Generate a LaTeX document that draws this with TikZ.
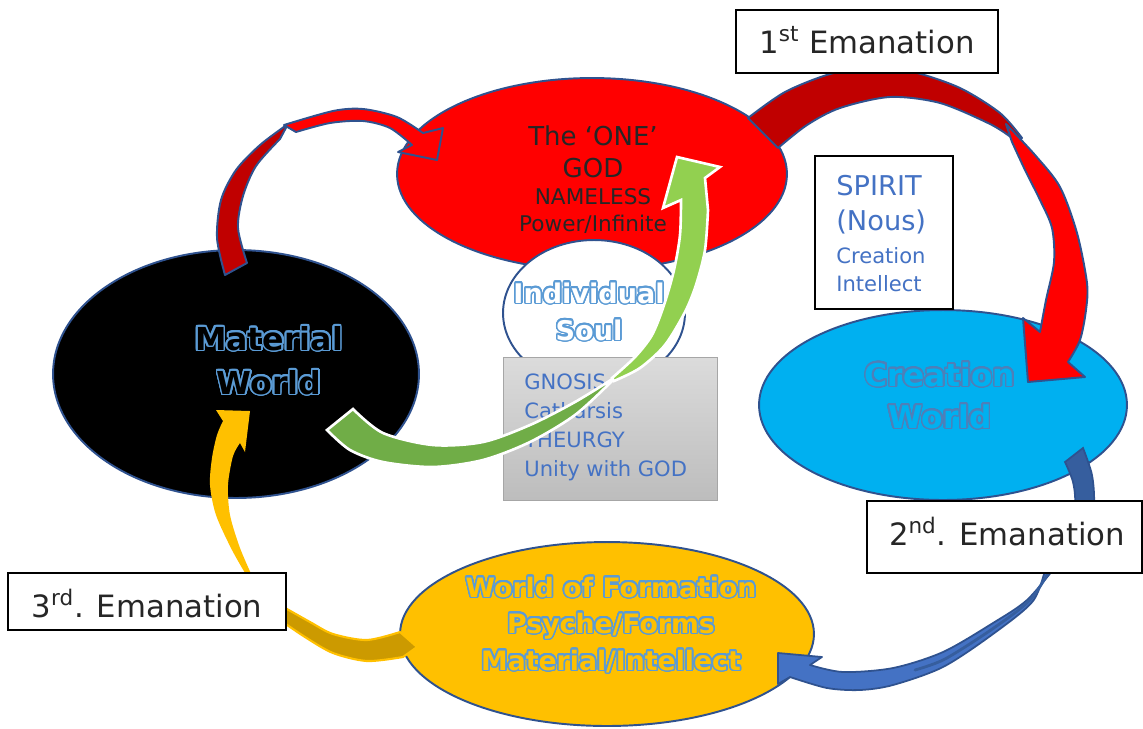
\documentclass[tikz,border=0pt]{standalone}
\usepackage{fontspec}
\setmainfont{DejaVu Sans}
\usepackage{xcolor}
\usepackage{contour}
\usepackage{tikz}
\usetikzlibrary{positioning}
\usetikzlibrary{shapes,calc}
\contourlength{0.9pt}
\contournumber{24}
\definecolor{godred}{HTML}{FF0000}
\definecolor{backred}{HTML}{C00000}
\definecolor{edgeblue}{HTML}{2F528F}
\definecolor{skyblue}{HTML}{00B0F0}
\definecolor{gold}{HTML}{FFC000}
\definecolor{backgold}{HTML}{CC9A00}
\definecolor{frontblue}{HTML}{4472C4}
\definecolor{backblue}{HTML}{365E9E}
\definecolor{backgreen}{HTML}{70AD47}
\definecolor{frontgreen}{HTML}{92D050}
\definecolor{inkblue}{HTML}{4472C4}
\definecolor{rimblue}{HTML}{5B9BD5}
\definecolor{dullrim}{HTML}{4F7FB8}
\definecolor{inkgray}{HTML}{262626}
\newcommand{\sz}[1]{\fontsize{#1pt}{#1pt}\selectfont}
\tikzset{
	world/.style = {ellipse, draw=edgeblue, line width=1.1pt, inner sep=0pt},
	tag/.style = {rectangle, draw=black, fill=white, line width=0.7pt, inner sep=0pt},
	lbl/.style = {anchor=base, inner sep=0pt},
	bandred/.style = {draw=edgeblue, line width=1.1pt, line join=round},
}

\begin{document}
\begin{tikzpicture}[x=0.02cm, y=-0.02cm]
\useasboundingbox (0,0) rectangle (1143,728);
% worlds
\node (One) [world, fill=godred, minimum width=7.8cm, minimum height=3.84cm] at (592,174) {};
\node (Material) [world, fill=black, minimum width=7.32cm, minimum height=4.96cm] at (236,374) {};
\node (Creation) [world, fill=skyblue, minimum width=7.36cm, minimum height=3.8cm] at (943,405) {};
\node (Formation) [world, fill=gold, minimum width=8.28cm, minimum height=3.68cm] at (607,634) {};
\node (Soul) [world, fill=white, minimum width=3.64cm, minimum height=2.92cm] at (594,313) {};
% texts in the worlds
\node (OneA) [lbl, text=inkgray, font=\sz{14.8}] at (593,145) {The ‘ONE’};
\node (OneB) [lbl, text=inkgray, font=\sz{14.8}] at (593,177) {GOD};
\node (OneC) [lbl, text=inkgray, font=\sz{12.3}] at (593,204) {NAMELESS};
\node (OneD) [lbl, text=inkgray, font=\sz{12.3}] at (593,231) {Power/Infinite};
\node (MatA) [lbl, text=black, font=\sz{18}\bfseries] at (269,350) {\contour{rimblue}{Material}};
\node (MatB) [lbl, text=black, font=\sz{18}\bfseries] at (269,394) {\contour{rimblue}{World}};
\node (CreA) [lbl, text=skyblue, font=\sz{17.8}\bfseries] at (940,386) {\contour{dullrim}{Creation}};
\node (CreB) [lbl, text=skyblue, font=\sz{17.8}\bfseries] at (940,428) {\contour{dullrim}{World}};
\node (ForA) [lbl, text=gold, font=\sz{15.2}\bfseries] at (611,597) {\contour{rimblue}{World of Formation}};
\node (ForB) [lbl, text=gold, font=\sz{15.2}\bfseries] at (611,633) {\contour{rimblue}{Psyche/Forms}};
\node (ForC) [lbl, text=gold, font=\sz{15.2}\bfseries] at (611,670) {\contour{rimblue}{Material/Intellect}};
\node (SoulA) [lbl, text=white, font=\sz{15.4}\bfseries] at (589,303) {\contour{rimblue}{Individual}};
\node (SoulB) [lbl, text=white, font=\sz{15.4}\bfseries] at (589,340) {\contour{rimblue}{Soul}};
% return arrow, material to one
\filldraw[fill=backred, bandred] plot[smooth] coordinates {(225,275) (217,238) (221,200) (236,170) (260,145) (288,124)}
	-- plot[smooth] coordinates {(280,139) (256,166) (243,196) (238,228) (247,263)} -- cycle;
\filldraw[fill=godred, bandred] plot[smooth] coordinates {(284,125) (333,111) (363,109) (397,117) (423,133)}
	-- (443,128) -- (437,160) -- (398,152)
	-- plot[smooth] coordinates {(412,145) (390,128) (363,121) (330,123) (296,132)} -- cycle;
% 1st emanation
\filldraw[fill=backred, bandred] plot[smooth] coordinates {(748,118) (785,92) (830,74) (870,68) (913,72) (960,88) (1000,113) (1022,138)}
	-- plot[smooth] coordinates {(1012,138) (990,124) (940,103) (890,97) (840,108) (807,125) (778,148)} -- cycle;
\filldraw[fill=godred, bandred] plot[smooth] coordinates {(1006,124) (1035,155) (1060,187) (1077,233) (1087,283) (1086,310) (1080,340) (1068,362)}
	-- (1085,377) -- (1028,382) -- (1023,318)
	-- plot[smooth] coordinates {(1040,332) (1046,300) (1054,262) (1052,228) (1040,200) (1025,170) (1012,142)} -- cycle;
% 2nd emanation
\filldraw[fill=backblue, draw=edgeblue, line width=1pt] plot[smooth] coordinates {(1083,448) (1092,475) (1094,505) (1088,540)}
	-- plot[smooth] coordinates {(1068,540) (1075,505) (1073,482) (1065,462)} -- cycle;
\filldraw[fill=frontblue, draw=edgeblue, line width=1pt, line join=round] plot[smooth] coordinates {(1056,566) (1027,600) (993,623) (943,652) (893,668) (843,672) (810,665)}
	-- (822,657) -- (778,653) -- (778,684)
	-- plot[smooth] coordinates {(790,677) (827,688) (860,690) (893,685) (943,667) (993,634) (1033,601) (1046,566)} -- cycle;
\draw[backblue, line width=1.6pt, line cap=round] plot[smooth] coordinates {(1051,568) (1030,600) (993,628.5) (945,659) (915,670)};
% 3rd emanation
\filldraw[fill=backgold, draw=gold, line width=1.2pt] plot[smooth] coordinates {(280,605) (310,622) (333,634) (367,640) (400,632)}
	-- (417,647) -- plot[smooth] coordinates {(403,657) (367,661) (333,653) (305,637) (280,620)} -- cycle;
\fill[gold] plot[smooth] coordinates {(248,578) (232,550) (216,515) (210,485) (212,458) (217,435) (223,421)}
	-- (216,410) -- (250,411) -- (245,452)
	-- plot[smooth] coordinates {(240,443) (233,456) (228,485) (230,515) (240,548) (253,578)} -- cycle;
% the way back
\node (Path) [rectangle, draw=gray!70, top color=black!14, bottom color=black!26, minimum width=4.28cm, minimum height=2.86cm] at (610,428.5) {};
\node (PathA) [lbl, anchor=base west, text=inkblue, font=\sz{12}] at (524,389) {GNOSIS};
\node (PathB) [lbl, anchor=base west, text=inkblue, font=\sz{12}] at (524,418) {Catharsis};
\node (PathC) [lbl, anchor=base west, text=inkblue, font=\sz{12}] at (524,447) {THEURGY};
\node (PathD) [lbl, anchor=base west, text=inkblue, font=\sz{12}] at (524,476) {Unity with GOD};
\filldraw[fill=backgreen, draw=white, line width=1.5pt] plot[smooth] coordinates {(353,409) (383,433) (433,445) (483,442) (530,425) (575,402) (614,378)}
	-- plot[smooth] coordinates {(612,381) (575,415) (530,442) (483,460) (433,467) (383,462) (350,450) (327,430)} -- cycle;
\filldraw[fill=frontgreen, draw=white, line width=1.5pt] plot[smooth] coordinates {(612,378) (635,357) (652,335) (664,305) (674,270) (680,235) (681,200)}
	-- (663,208) -- (677,157) -- (720,167) -- (705,178)
	-- plot[smooth] coordinates {(708,210) (705,250) (696,285) (685,312) (665,345) (640,368) (614,381)} -- cycle;
% labels
\node (First) [tag, minimum width=5.24cm, minimum height=1.26cm] at (867,41.5) {};
\node (FirstT) [lbl, text=inkgray, font=\sz{17.5}] at (867,53) {1\textsuperscript{st} Emanation};
\node (Spirit) [tag, minimum width=2.76cm, minimum height=3.06cm] at (884,232.5) {};
\node (SpiritA) [lbl, anchor=base west, text=inkblue, font=\sz{15.5}] at (836,195) {SPIRIT};
\node (SpiritB) [lbl, anchor=base west, text=inkblue, font=\sz{15.5}] at (836,230) {(Nous)};
\node (SpiritC) [lbl, anchor=base west, text=inkblue, font=\sz{12}] at (836,263) {Creation};
\node (SpiritD) [lbl, anchor=base west, text=inkblue, font=\sz{12}] at (836,291) {Intellect};
\node (Second) [tag, minimum width=5.5cm, minimum height=1.44cm] at (1004.5,537) {};
\node (SecondT) [lbl, text=inkgray, font=\sz{17.5}] at (1007,545) {2\textsuperscript{nd}. Emanation};
\node (Third) [tag, minimum width=5.56cm, minimum height=1.14cm] at (147,601.5) {};
\node (ThirdT) [lbl, text=inkgray, font=\sz{17.5}] at (147,617) {3\textsuperscript{rd}. Emanation};
\end{tikzpicture}
\end{document}
